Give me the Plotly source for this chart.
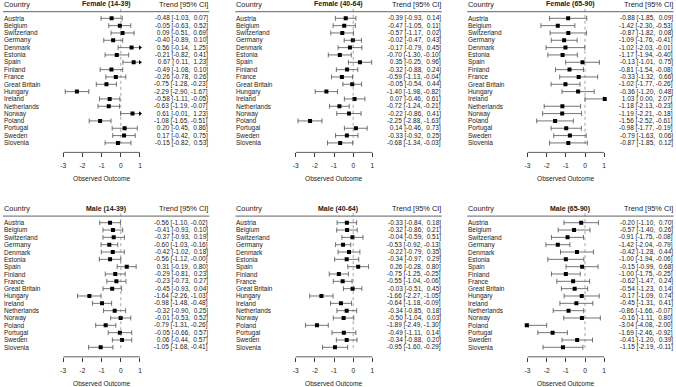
import plotly.graph_objects as go

countries = ["Austria", "Belgium", "Switzerland", "Germany", "Denmark", "Estonia",
             "Spain", "Finland", "France", "Great Britain", "Hungary", "Ireland",
             "Netherlands", "Norway", "Poland", "Portugal", "Sweden", "Slovenia"]

panel_titles = ["Female (14-39)", "Female (40-64)", "Female (65-90)",
                "Male (14-39)", "Male (40-64)", "Male (65-90)"]

f1439_est = [-0.48, -0.05, 0.09, -0.40, 0.56, -0.21, 0.67, -0.49, -0.26, -0.75, -2.29, -0.58, -0.63, 0.61, -1.08, 0.20, 0.17, -0.15]
f1439_lo = [-1.03, -0.63, -0.51, -0.89, -0.14, -0.82, 0.11, -1.08, -0.78, -1.28, -2.90, -1.11, -1.19, -0.01, -1.65, -0.45, -0.42, -0.82]
f1439_hi = [0.07, 0.52, 0.69, 0.10, 1.25, 0.41, 1.23, 0.10, 0.26, -0.23, -1.67, -0.05, -0.07, 1.23, -0.51, 0.86, 0.75, 0.53]

f4064_est = [-0.39, -0.47, -0.57, -0.02, -0.17, -0.70, 0.35, -0.32, -0.59, -0.05, -1.40, 0.07, -0.72, -0.22, -2.25, 0.14, -0.33, -0.68]
f4064_lo = [-0.93, -1.05, -1.17, -0.47, -0.79, -1.30, -0.25, -0.88, -1.13, -0.54, -1.98, -0.46, -1.24, -0.86, -2.88, -0.46, -0.92, -1.34]
f4064_hi = [0.14, 0.11, 0.02, 0.43, 0.45, -0.10, 0.96, 0.24, -0.04, 0.44, -0.82, 0.61, -0.21, 0.41, -1.63, 0.73, 0.25, -0.03]

f6590_est = [-0.88, -1.42, -0.87, -1.09, -1.02, -1.17, -0.13, -0.81, -0.33, -1.02, -0.36, 1.03, -1.18, -1.19, -1.56, -0.98, -0.79, -0.87]
f6590_lo = [-1.85, -2.30, -1.82, -1.76, -2.03, -1.94, -1.01, -1.54, -1.32, -1.77, -1.20, 0.00, -2.13, -2.21, -2.52, -1.77, -1.63, -1.85]
f6590_hi = [0.09, -0.53, 0.08, -0.41, -0.01, -0.40, 0.75, -0.08, 0.66, -0.26, 0.48, 2.07, -0.23, -0.18, -0.61, -0.19, 0.06, 0.12]

m1439_est = [-0.56, -0.41, -0.37, -0.60, -0.42, -0.56, 0.31, -0.29, -0.23, -0.45, -1.64, -0.98, -0.32, -0.01, -0.79, -0.05, 0.06, -1.05]
m1439_lo = [-1.10, -0.93, -0.93, -1.03, -1.02, -1.12, -0.19, -0.81, -0.73, -0.93, -2.26, -1.48, -0.90, -0.53, -1.31, -0.66, -0.44, -1.68]
m1439_hi = [-0.02, 0.10, 0.19, -0.16, 0.18, -0.0, 0.80, 0.23, 0.27, 0.04, -1.03, -0.48, 0.25, 0.52, -0.26, 0.57, 0.57, -0.41]

m4064_est = [-0.33, -0.32, -0.04, -0.53, -0.22, -0.34, 0.26, -0.75, -0.55, -0.03, -1.66, -0.64, -0.34, -0.50, -1.89, -0.49, -0.34, -0.95]
m4064_lo = [-0.84, -0.86, -0.59, -0.92, -0.79, -0.97, -0.28, -1.25, -1.04, -0.51, -2.27, -1.18, -0.85, -1.04, -2.49, -1.11, -0.88, -1.60]
m4064_hi = [0.18, 0.21, 0.51, -0.13, 0.35, 0.29, 0.80, -0.25, -0.06, 0.45, -1.05, -0.09, 0.18, 0.03, -1.30, 0.14, 0.20, -0.29]

m6590_est = [-0.20, -0.57, -0.91, -1.42, -0.42, -1.00, -0.15, -1.00, -0.62, -0.54, -0.17, -0.45, -0.86, -0.16, -3.04, -1.69, -0.41, -1.15]
m6590_lo = [-1.10, -1.40, -1.75, -2.04, -1.28, -1.94, -0.99, -1.75, -1.47, -1.23, -1.09, -1.31, -1.66, -1.11, -4.08, -2.46, -1.20, -2.19]
m6590_hi = [0.70, 0.26, -0.08, -0.79, 0.44, -0.06, 0.68, -0.25, 0.24, 0.14, 0.74, 0.41, -0.07, 0.80, -2.00, -0.92, 0.39, -0.11]

tick_vals = [-3, -2, -1, 0, 1]
tick_labels = ["-3", "-2", "-1", "0", "1"]
x_title = "Observed Outcome"
col_header_left = "Country"
col_header_right = "Trend [95% CI]"

panels = [
    (f1439_est, f1439_lo, f1439_hi),
    (f4064_est, f4064_lo, f4064_hi),
    (f6590_est, f6590_lo, f6590_hi),
    (m1439_est, m1439_lo, m1439_hi),
    (m4064_est, m4064_lo, m4064_hi),
    (m6590_est, m6590_lo, m6590_hi),
]

# ---- geometry (pixels) ----
W, H = 676, 387
FONT = "Liberation Sans"
TXT = "#1a1a1a"
LINE = "#3a3a3a"
AX_LO, AX_HI = -3, 1
PX_PER = 19.17        # pixels per unit
AX_PX = 63.3          # pixel offset of -3 within a panel
PANEL_W = 211
col_left = [0, 232.4, 464.2]
row_top = [0, 204.4]
ROW0 = 18.3           # first row centre (px from panel top)
ROW_STEP = 7.33
AXIS_PX = 152.4       # axis line (px from panel top)


def px2v(p):
    return AX_LO + (p - AX_PX) / PX_PER


def py2i(p):
    return (p - ROW0) / ROW_STEP


X_LEFT = px2v(3.0)
X_RIGHT = px2v(209.3)
X_CENTER = px2v(106.0)


def fmt(v):
    return f"{v:5.2f}"


fig = go.Figure()
annotations = []
shapes = []
layout_axes = {}
n_rows = len(countries)
rows_idx = list(range(n_rows))

for k, (est, lo, hi) in enumerate(panels):
    r, c = divmod(k, 3)
    n = k + 1
    xa = "x" if n == 1 else f"x{n}"
    ya = "y" if n == 1 else f"y{n}"
    xkey = "xaxis" if n == 1 else f"xaxis{n}"
    ykey = "yaxis" if n == 1 else f"yaxis{n}"
    L = col_left[c]
    T = row_top[r]
    x0v = px2v(0)
    x1v = px2v(PANEL_W)
    layout_axes[xkey] = dict(
        domain=[L / W, (L + PANEL_W) / W], range=[x0v, x1v], anchor=ya,
        showgrid=False, zeroline=False, showline=False,
        tickmode="array", tickvals=tick_vals, ticktext=tick_labels,
        ticks="outside", ticklen=4, tickwidth=0.8, tickcolor=LINE,
        tickfont=dict(family=FONT, size=6.6, color=TXT), ticklabelstandoff=3,
        fixedrange=True,
    )
    layout_axes[ykey] = dict(
        domain=[1 - (T + AXIS_PX) / H, 1 - T / H],
        range=[py2i(AXIS_PX), py2i(0)], anchor=xa, visible=False,
        fixedrange=True,
    )

    # CI segments (clipped to axis limits), caps, arrows
    seg_x, seg_y = [], []
    cap_x, cap_y = [], []
    ar_r_x, ar_r_y, ar_l_x, ar_l_y = [], [], [], []
    for i in rows_idx:
        a = max(lo[i], AX_LO)
        b = min(hi[i], AX_HI)
        seg_x += [a, b, None]
        seg_y += [i, i, None]
        if lo[i] < AX_LO:
            ar_l_x.append(AX_LO); ar_l_y.append(i)
        else:
            cap_x.append(lo[i]); cap_y.append(i)
        if hi[i] > AX_HI:
            ar_r_x.append(AX_HI); ar_r_y.append(i)
        else:
            cap_x.append(hi[i]); cap_y.append(i)

    fig.add_trace(go.Scatter(x=seg_x, y=seg_y, mode="lines", xaxis=xa, yaxis=ya,
                             line=dict(color=LINE, width=0.7), hoverinfo="skip",
                             showlegend=False))
    fig.add_trace(go.Scatter(x=cap_x, y=cap_y, mode="markers", xaxis=xa, yaxis=ya,
                             marker=dict(symbol="line-ns", size=3.5,
                                         line=dict(color=LINE, width=0.7)),
                             hoverinfo="skip", showlegend=False))
    if ar_r_x:
        fig.add_trace(go.Scatter(x=ar_r_x, y=ar_r_y, mode="markers", xaxis=xa, yaxis=ya,
                                 marker=dict(symbol="triangle-right", size=4, color="black"),
                                 hoverinfo="skip", showlegend=False))
    if ar_l_x:
        fig.add_trace(go.Scatter(x=ar_l_x, y=ar_l_y, mode="markers", xaxis=xa, yaxis=ya,
                                 marker=dict(symbol="triangle-left", size=4, color="black"),
                                 hoverinfo="skip", showlegend=False))
    fig.add_trace(go.Scatter(x=est, y=rows_idx, mode="markers", xaxis=xa, yaxis=ya,
                             marker=dict(symbol="square", size=4, color="black"),
                             showlegend=False))

    # axis line, reference line, header line
    shapes.append(dict(type="line", xref=xa, yref=f"{ya} domain", x0=AX_LO, x1=AX_HI,
                       y0=0, y1=0, line=dict(color=LINE, width=0.8)))
    shapes.append(dict(type="line", xref=xa, yref=ya, x0=0, x1=0, y0=-1.3, y1=n_rows - 0.5,
                       line=dict(color="#666666", width=0.6, dash="dot")))
    shapes.append(dict(type="line", xref=xa, yref=ya, x0=X_LEFT, x1=X_RIGHT,
                       y0=-0.9, y1=-0.9, line=dict(color=LINE, width=0.8)))

    # headers
    hy = -1.9
    annotations.append(dict(x=X_LEFT, y=hy, xref=xa, yref=ya, text=col_header_left,
                            xanchor="left", yanchor="middle", showarrow=False, borderpad=0,
                            font=dict(family=FONT, size=7.4, color=TXT)))
    annotations.append(dict(x=X_RIGHT, y=hy, xref=xa, yref=ya, text=col_header_right,
                            xanchor="right", yanchor="middle", showarrow=False, borderpad=0,
                            font=dict(family=FONT, size=7.4, color=TXT)))
    annotations.append(dict(x=X_CENTER, y=hy, xref=xa, yref=ya,
                            text=f"<b>{panel_titles[k]}</b>",
                            xanchor="center", yanchor="middle", showarrow=False, borderpad=0,
                            font=dict(family=FONT, size=7.0, color=TXT)))
    annotations.append(dict(x=(AX_LO + AX_HI) / 2, y=-26.5 / AXIS_PX, xref=xa,
                            yref=f"{ya} domain", text=x_title,
                            xanchor="center", yanchor="middle", showarrow=False, borderpad=0,
                            font=dict(family=FONT, size=6.6, color=TXT)))

    for i in rows_idx:
        annotations.append(dict(x=X_LEFT, y=i, xref=xa, yref=ya, text=countries[i],
                                xanchor="left", yanchor="middle", showarrow=False, borderpad=0,
                                font=dict(family=FONT, size=6.5, color=TXT)))
        s = f"{fmt(est[i])} [{fmt(lo[i])}, {fmt(hi[i])}]".replace(" ", "\u00a0")
        annotations.append(dict(x=X_RIGHT, y=i, xref=xa, yref=ya, text=s,
                                xanchor="right", yanchor="middle", showarrow=False, borderpad=0,
                                font=dict(family=FONT, size=6.5, color=TXT)))

fig.update_layout(
    width=W, height=H, autosize=False,
    margin=dict(l=0, r=0, t=0, b=0),
    paper_bgcolor="white", plot_bgcolor="white",
    showlegend=False,
    annotations=annotations, shapes=shapes,
    **layout_axes,
)

fig.write_html(
    "out.html",
    config={"displayModeBar": False},
    post_script="document.body.style.margin='0';document.body.style.overflow='hidden';",
)
